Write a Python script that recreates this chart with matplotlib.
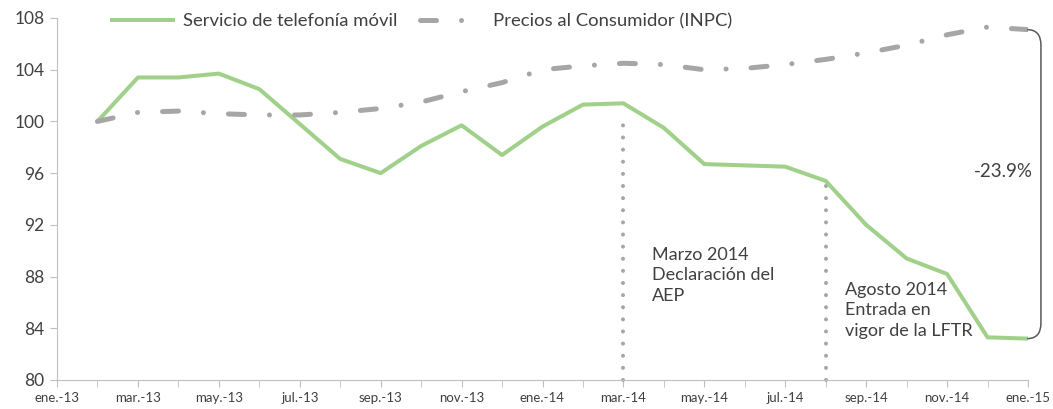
import matplotlib
matplotlib.use("Agg")
import matplotlib.pyplot as plt
from matplotlib.path import Path
from matplotlib.patches import PathPatch

plt.rcParams['font.family'] = ['Lato', 'DejaVu Sans']

# ---- data ----
month_labels = ['ene.-13', 'mar.-13', 'may.-13', 'jul.-13', 'sep.-13', 'nov.-13',
                'ene.-14', 'mar.-14', 'may.-14', 'jul.-14', 'sep.-14', 'nov.-14', 'ene.-15']
# monthly positions (0 = ene.-13); series run from feb.-13 (1) to ene.-15 (24)
months = list(range(1, 25))
movil = [100.0, 103.4, 103.4, 103.7, 102.5, 99.8, 97.1, 96.0, 98.1, 99.7, 97.4, 99.6,
         101.3, 101.4, 99.5, 96.7, 96.6, 96.5, 95.4, 92.0, 89.4, 88.2, 83.3, 83.2]
inpc = [100.0, 100.7, 100.8, 100.6, 100.5, 100.5, 100.7, 101.0, 101.5, 102.3, 103.0, 104.0,
        104.3, 104.5, 104.4, 104.0, 104.1, 104.4, 104.8, 105.3, 105.9, 106.7, 107.3, 107.1]
event_months = [14, 19]
event_tops = [99.9, 95.2]
event_texts = ['Marzo 2014\nDeclaración del\nAEP', 'Agosto 2014\nEntrada en\nvigor de la LFTR']
diff_label = '-23.9%'

W, H = 1053, 409
fig = plt.figure(figsize=(W / 100, H / 100), dpi=100)
ax = fig.add_axes([57 / W, (H - 380) / H, (1028 - 57) / W, (380 - 18) / H])

green = '#a0d08a'
gray = '#a6a6a6'
txt = '#404040'
axc = '#bfbfbf'

ax.plot(months, movil, color=green, lw=2.9, solid_joinstyle='round',
        solid_capstyle='butt', label='Servicio de telefonía móvil', zorder=3)
ax.plot(months, inpc, color=gray, lw=3.6, dashes=(3.2, 5, 0.01, 5),
        dash_capstyle='round', label='Precios al Consumidor (INPC)', zorder=3)

for m, top in zip(event_months, event_tops):
    ax.plot([m, m], [80, top], color=gray, lw=2.9, dashes=(0.01, 3),
            dash_capstyle='round', zorder=2, clip_on=False)

ax.text(14.7, 90.3, event_texts[0], ha='left', va='top', fontsize=13,
        color=txt, linespacing=1.35)
ax.text(19.47, 87.6, event_texts[1], ha='left', va='top', fontsize=13,
        color=txt, linespacing=1.35)

# bracket
xr = 24.32
x0 = 23.98
top, bot = inpc[-1], movil[-1]
verts = [(x0, top), (xr, top), (xr, top - 1.2), (xr, bot + 1.2), (xr, bot), (x0, bot)]
codes = [Path.MOVETO, Path.CURVE3, Path.CURVE3, Path.LINETO, Path.CURVE3, Path.CURVE3]
ax.add_patch(PathPatch(Path(verts, codes), fill=False, edgecolor='#595959', lw=1.1,
                       clip_on=False, zorder=4))
ax.text(24.12, 96.1, diff_label, ha='right', va='center', fontsize=13.5, color=txt)

ax.set_xlim(0, 24)
ax.set_ylim(80, 108)
ax.set_yticks(range(80, 109, 4))
ax.set_xticks(range(0, 25, 2))
ax.set_xticklabels(month_labels)
ax.set_xticks(range(1, 25, 2), minor=True)
ax.tick_params(axis='y', direction='out', length=5, color=axc, labelsize=12.5,
               labelcolor=txt, pad=4)
ax.tick_params(axis='x', which='both', direction='out', length=5, color=axc,
               labelsize=9.5, labelcolor=txt, pad=4)
for s in ['top', 'right']:
    ax.spines[s].set_visible(False)
for s in ['left', 'bottom']:
    ax.spines[s].set_color(axc)
    ax.spines[s].set_linewidth(0.8)

fig.legend(loc='center left', bbox_to_anchor=(110 / W, 1 - 21 / H), ncol=2,
           frameon=False, fontsize=13.3, handlelength=3.5, handletextpad=0.45,
           columnspacing=1.25, labelcolor=txt, borderaxespad=0, borderpad=0)

fig.savefig('out.png', dpi=100)
